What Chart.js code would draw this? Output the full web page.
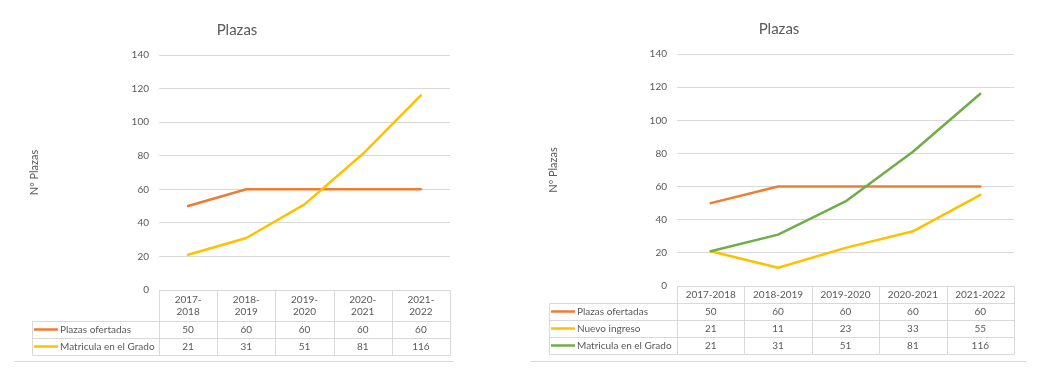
<!DOCTYPE html>
<html>
<head>
<meta charset="utf-8">
<script src="https://cdn.jsdelivr.net/npm/chart.js@4.4.1/dist/chart.umd.min.js"></script>
<style>
  html, body { margin: 0; padding: 0; background: #ffffff; }
  .panel { position: absolute; top: 0; width: 530px; height: 378px; }
</style>
</head>
<body>
<div class="panel" style="left:0"><canvas id="plazas_left" width="530" height="378"></canvas></div>
<div class="panel" style="left:530px"><canvas id="plazas_right" width="530" height="378"></canvas></div>
<script>
var years = ["2017-2018", "2018-2019", "2019-2020", "2020-2021", "2021-2022"]
var plazasOfertadas = [50, 60, 60, 60, 60]
var nuevoIngreso = [21, 11, 23, 33, 55]
var matriculaGrado = [21, 31, 51, 81, 116]
var yTicks = [0, 20, 40, 60, 80, 100, 120, 140]

var ORANGE = "#ED7D31"
var YELLOW = "#FFC000"
var GREEN = "#70AD47"
var TEXT = "#595959"
var GRID = "#D9D9D9"
var FONT = "Lato, 'Open Sans', sans-serif"

Chart.defaults.font.family = FONT
Chart.defaults.color = TEXT

// draws the Excel-style data table under the plot, columns taken from the x scale
var dataTablePlugin = {
  id: "dataTable",
  afterDraw: function (chart, args, opts) {
    var ctx = chart.ctx
    var xs = chart.scales.x
    var n = chart.data.labels.length
    var centers = []
    for (var i = 0; i < n; i++) centers.push(xs.getPixelForValue(i))
    var step = n > 1 ? centers[1] - centers[0] : xs.width
    var edges = [centers[0] - step / 2]
    for (var i = 0; i < n; i++) edges.push(centers[i] + step / 2)

    var top = chart.chartArea.bottom
    var rowTops = [top, top + opts.headerHeight]
    chart.data.datasets.forEach(function () {
      rowTops.push(rowTops[rowTops.length - 1] + opts.rowHeight)
    })
    var bottom = rowTops[rowTops.length - 1]
    var right = edges[n]

    function line(x1, y1, x2, y2) {
      ctx.moveTo(Math.round(x1) + 0.5, Math.round(y1) + 0.5)
      ctx.lineTo(Math.round(x2) + 0.5, Math.round(y2) + 0.5)
    }

    ctx.save()
    ctx.strokeStyle = GRID
    ctx.lineWidth = 1
    ctx.beginPath()
    line(edges[0], top, right, top)
    for (var r = 1; r < rowTops.length; r++) line(opts.left, rowTops[r], right, rowTops[r])
    for (var i = 0; i <= n; i++) line(edges[i], top, edges[i], bottom)
    line(opts.left, rowTops[1], opts.left, bottom)
    line(opts.frame[0], opts.frame[2], opts.frame[1], opts.frame[2])
    ctx.stroke()

    ctx.fillStyle = TEXT
    ctx.font = "10px " + FONT
    ctx.textAlign = "center"
    ctx.textBaseline = "middle"

    // header row
    var hMid = (rowTops[0] + rowTops[1]) / 2
    chart.data.labels.forEach(function (label, i) {
      if (opts.splitHeader) {
        var k = label.indexOf("-")
        ctx.fillText(label.slice(0, k + 1), centers[i], hMid - 6)
        ctx.fillText(label.slice(k + 1), centers[i], hMid + 6)
      } else {
        ctx.fillText(label, centers[i], hMid)
      }
    })

    // one row per series
    chart.data.datasets.forEach(function (ds, d) {
      var mid = (rowTops[d + 1] + rowTops[d + 2]) / 2
      ctx.strokeStyle = ds.borderColor
      ctx.lineWidth = 2.5
      ctx.beginPath()
      ctx.moveTo(opts.left + 2, mid)
      ctx.lineTo(opts.left + 26, mid)
      ctx.stroke()
      ctx.textAlign = "left"
      ctx.fillText(ds.label, opts.left + 28, mid)
      ctx.textAlign = "center"
      ds.data.forEach(function (v, i) {
        ctx.fillText(String(v), centers[i], mid)
      })
    })
    ctx.restore()
  }
}

function series(label, data, color, order) {
  return {
    label: label,
    data: data,
    borderColor: color,
    backgroundColor: color,
    borderWidth: 2.5,
    borderCapStyle: "round",
    borderJoinStyle: "round",
    pointRadius: 0,
    tension: 0,
    order: order
  }
}

function makeChart(id, datasets, cfg) {
  return new Chart(document.getElementById(id).getContext("2d"), {
    type: "line",
    data: { labels: years, datasets: datasets },
    plugins: [dataTablePlugin],
    options: {
      responsive: false,
      animation: false,
      devicePixelRatio: 1,
      layout: { padding: { left: cfg.padLeft, right: cfg.padRight, top: 0, bottom: cfg.padBottom } },
      plugins: {
        legend: { display: false },
        tooltip: { enabled: false },
        title: {
          display: true,
          text: "Plazas",
          color: TEXT,
          font: { family: FONT, size: 15, weight: "normal" },
          padding: { top: cfg.titleTop, bottom: 16 }
        },
        dataTable: {
          left: cfg.tableLeft,
          headerHeight: cfg.headerHeight,
          rowHeight: 17,
          splitHeader: cfg.splitHeader,
          frame: cfg.frame
        }
      },
      scales: {
        x: {
          display: false,
          offset: true
        },
        y: {
          min: yTicks[0],
          max: yTicks[yTicks.length - 1],
          ticks: {
            stepSize: yTicks[1] - yTicks[0],
            padding: 10,
            color: TEXT,
            font: { family: FONT, size: 10 }
          },
          grid: { color: GRID, drawTicks: false },
          border: { display: false },
          title: {
            display: true,
            text: "Nº Plazas",
            color: TEXT,
            font: { family: FONT, size: 11 },
            padding: { top: cfg.yTitleTop, bottom: 0 }
          },
          afterFit: function (scale) {
            scale.width = cfg.plotLeft - cfg.padLeft
          }
        }
      }
    }
  })
}

makeChart("plazas_left", [
  series("Plazas ofertadas", plazasOfertadas, ORANGE, 2),
  series("Matricula en el Grado", matriculaGrado, YELLOW, 1)
], {
  padLeft: 24, padRight: 80, padBottom: 88, plotLeft: 159,
  titleTop: 21, yTitleTop: 3.5,
  tableLeft: 32, headerHeight: 31, splitHeader: true,
  frame: [14, 453, 361]
})

makeChart("plazas_right", [
  series("Plazas ofertadas", plazasOfertadas, ORANGE, 3),
  series("Nuevo ingreso", nuevoIngreso, YELLOW, 2),
  series("Matricula en el Grado", matriculaGrado, GREEN, 1)
], {
  padLeft: 14, padRight: 46, padBottom: 92, plotLeft: 147,
  titleTop: 20, yTitleTop: 2.5,
  tableLeft: 19, headerHeight: 17, splitHeader: false,
  frame: [0, 496, 361]
})
</script>
</body>
</html>
